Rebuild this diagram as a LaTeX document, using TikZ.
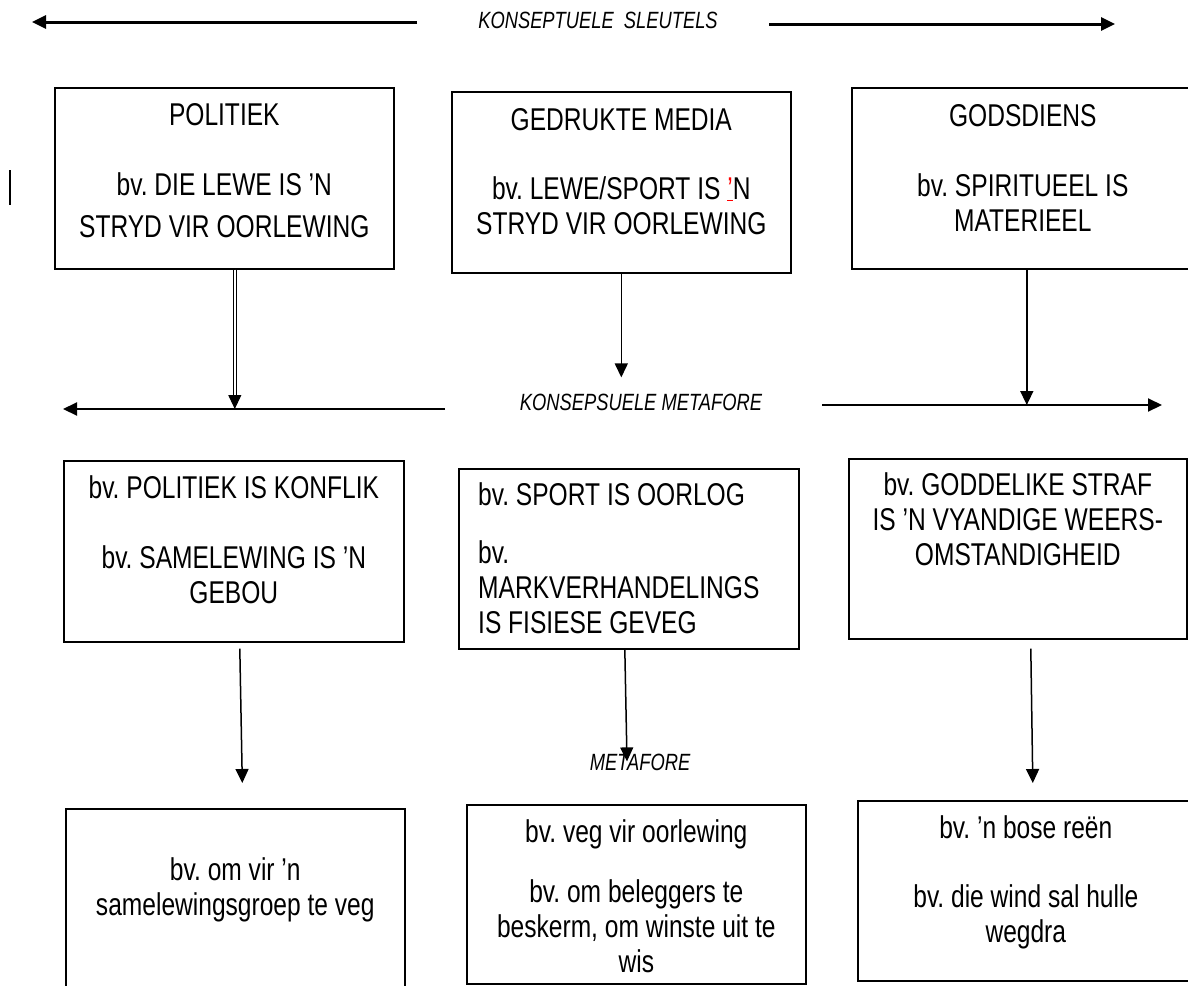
\documentclass[tikz,border=0pt]{standalone}
\usepackage{fontspec}
\setmainfont{Liberation Sans}[FakeStretch=0.78]
\usetikzlibrary{arrows.meta,positioning}
\frenchspacing

\begin{document}
\begin{tikzpicture}[
    x=1pt, y=-1pt,
    box/.style={rectangle, draw, line width=1.6pt, anchor=north west, inner sep=0pt},
    txt/.style={inner sep=0pt, align=center, font=\fontsize{31.5}{35}\selectfont},
    txtl/.style={txt, align=left},
    lbl/.style={inner sep=0pt, anchor=base, font=\fontsize{23.5}{27}\selectfont\itshape},
    arrow/.style={-{Triangle[length=14pt, width=13pt]}, line width=1.5pt},
    bigarrow/.style={arrow, line width=3pt}
]
\useasboundingbox (0,0) rectangle (1188,985);

% Konseptuele sleutels
\node[lbl] (keys) at (598,28) {KONSEPTUELE\ \ SLEUTELS};
\coordinate (kl) at (417,22);
\coordinate (kle) at (32,22);
\coordinate (kr) at (769,24);
\coordinate (kre) at (1115,24);

\node[box, minimum width=339pt, minimum height=181pt] (pol) at (54,87) {};
\node[txt, below=16pt of pol.north] (poltxt) {POLITIEK\\[35pt]bv. DIE LEWE IS ’N\\[7pt]STRYD VIR OORLEWING};

\node[box, minimum width=339pt, minimum height=181pt] (med) at (451,91) {};
\node[txt, below=17pt of med.north] (medtxt) {GEDRUKTE MEDIA\\[34pt]bv. LEWE/SPORT IS \textcolor{red}{\underline{’}}N\\STRYD VIR OORLEWING};

\node[box, minimum width=342pt, minimum height=181pt] (god) at (851,87) {};
\node[txt, below=17pt of god.north] (godtxt) {GODSDIENS\\[35pt]bv. SPIRITUEEL IS\\MATERIEEL};

% Konsepsuele metafore
\node[lbl] (cmet) at (641,410) {KONSEPSUELE METAFORE};
\coordinate (ml) at (445,409);
\coordinate (mle) at (63,409);
\coordinate (mr) at (822,405);
\coordinate (mre) at (1162,405);

\node[box, minimum width=340pt, minimum height=181pt] (konf) at (63,460) {};
\node[txt, below=15pt of konf.north] (konftxt) {bv. POLITIEK IS KONFLIK\\[35pt]bv. SAMELEWING IS ’N\\GEBOU};

\node[box, minimum width=340pt, minimum height=180pt] (oorl) at (458,468) {};
\node[txtl, below right=14pt and 20pt of oorl.north west] (oorltxt) {bv. SPORT IS OORLOG\\[23pt]bv.\\MARKVERHANDELINGS\\IS FISIESE GEVEG};

\node[box, minimum width=338pt, minimum height=180pt] (gods) at (848,458) {};
\node[txt, below=14pt of gods.north] (godstxt) {bv. GODDELIKE STRAF\\IS ’N VYANDIGE WEERS-\\OMSTANDIGHEID};

% Metafore
\node[lbl] (met) at (640,770) {METAFORE};

\node[box, minimum width=339pt, minimum height=200pt] (groep) at (65,808) {};
\node[txt, below=49pt of groep.north] (groeptxt) {bv. om vir ’n\\samelewingsgroep te veg};

\node[box, minimum width=339pt, minimum height=179pt] (veg) at (466,804) {};
\node[txt, below=15pt of veg.north] (vegtxt) {bv. veg vir oorlewing\\[25pt]bv. om beleggers te\\beskerm, om winste uit te\\wis};

\node[box, minimum width=336pt, minimum height=180pt] (reen) at (857,800) {};
\node[txt, below=15pt of reen.north] (reentxt) {bv. ’n bose reën\\[34pt]bv. die wind sal hulle\\wegdra};

% Arrows
\draw[bigarrow] (kl) -- (kle);
\draw[bigarrow] (kr) -- (kre);
\draw[arrow, line width=2pt] (ml) -- (mle);
\draw[arrow, line width=2pt] (mr) -- (mre);

\draw[arrow, line width=1.1pt, double, double distance=1.4pt] ([xshift=10.5pt]pol.south) -- ([xshift=10.5pt]pol.south |- ml);
\draw[arrow] (med.south) -- ([yshift=16pt]med.south |- cmet.north);
\draw[arrow] ([xshift=4pt]god.south) -- ([xshift=4pt]god.south |- mr);

\draw[arrow] ([xshift=6pt,yshift=-6pt]konf.south) -- ([xshift=7pt,yshift=25pt]groep.north);
\draw[arrow] ([xshift=-4pt,yshift=1pt]oorl.south) -- ([xshift=-13pt,yshift=-8pt]met.north);
\draw[arrow] ([xshift=13pt,yshift=-9pt]gods.south) -- ([xshift=7pt,yshift=17pt]reen.north);

% cursor mark
\draw[line width=1.2pt] (10,170) -- (10,205);

\end{tikzpicture}
\end{document}
